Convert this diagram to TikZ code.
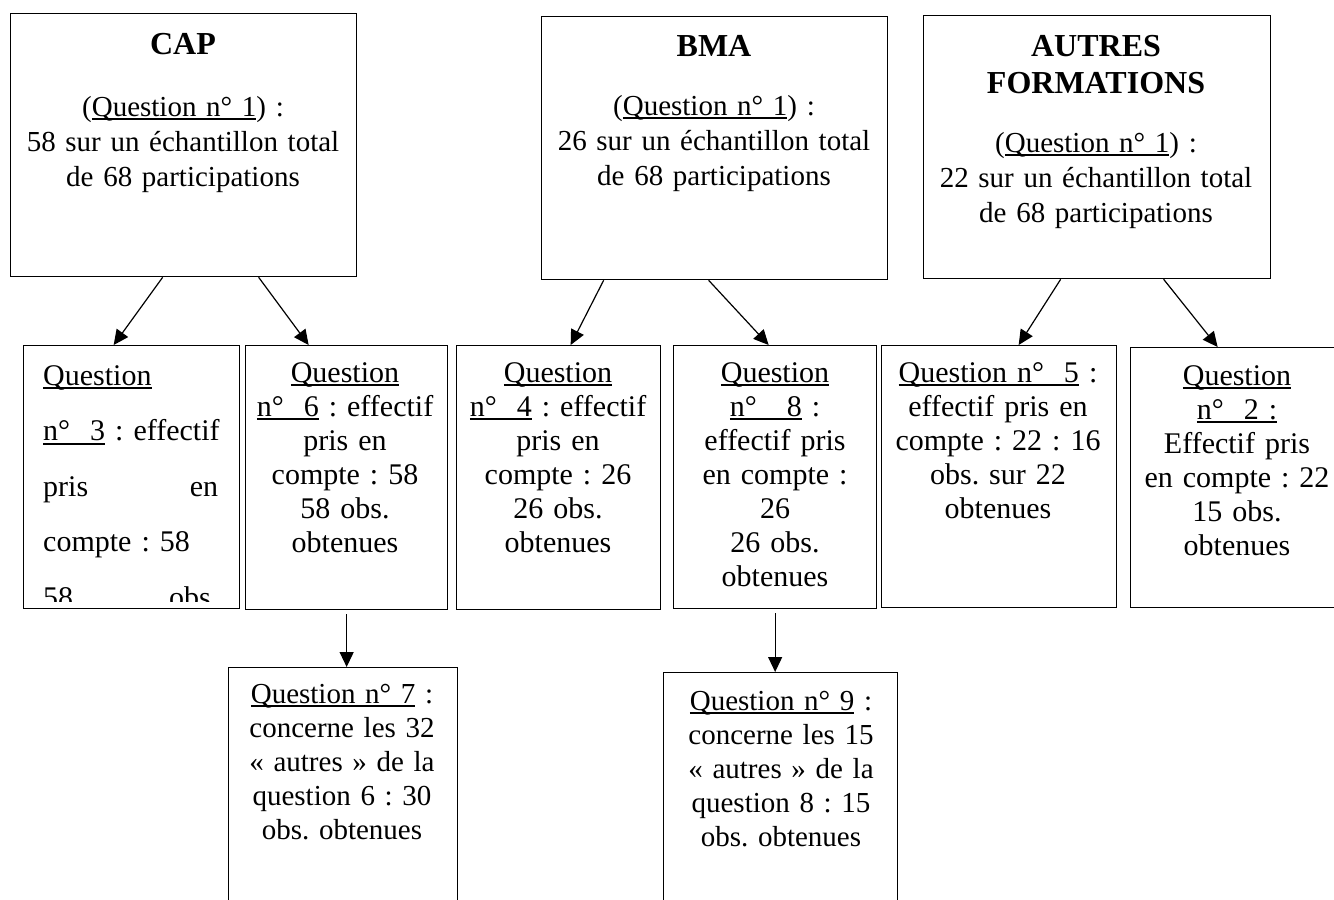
\documentclass[tikz,border=0pt]{standalone}
\usepackage{fontspec}
\setmainfont{Liberation Serif}[Ligatures=TeX]
\usetikzlibrary{arrows.meta,calc}
\newcommand\myul[1]{\leavevmode\setbox0\hbox{#1}\rlap{\rule[-4pt]{\wd0}{1.7pt}}\box0\relax}
\newcommand\jline[1]{\leavevmode\hbox to 175pt{#1}}
\newcommand\ttl[1]{{\fontsize{32}{35}\selectfont\textbf{#1}}}
\begin{document}
\begin{tikzpicture}[x=1pt,y=-1pt,
  box/.style={draw, line width=1.3pt, inner sep=0pt, anchor=north west},
  toptxt/.style={inner sep=0pt, anchor=base, text width=345pt, font=\fontsize{29}{35}\selectfont\frenchspacing},
  midtxt/.style={inner sep=0pt, anchor=base, text width=240pt, font=\fontsize{30}{34}\selectfont\frenchspacing},
  bottxt/.style={midtxt, font=\fontsize{29}{34}\selectfont\frenchspacing},
  arr/.style={line width=1.2pt, -{Triangle[length=15pt,width=14pt]}}]
\path[fill=white, use as bounding box] (0,0) rectangle (1334,900);

% top row
\node[box, minimum width=346pt, minimum height=263pt] (cap) at (10,13) {};
\node[box, minimum width=346pt, minimum height=263pt] (bma) at (541,16) {};
\node[box, minimum width=347pt, minimum height=263pt] (aut) at (923,15) {};
% second row
\node[box, minimum width=216pt, minimum height=263pt] (q3) at (23,345) {};
\node[box, minimum width=202pt, minimum height=264pt] (q6) at (245,345) {};
\node[box, minimum width=204pt, minimum height=264pt] (q4) at (456,345) {};
\node[box, minimum width=203pt, minimum height=263pt] (q8) at (673,345) {};
\node[box, minimum width=235pt, minimum height=262pt] (q5) at (881,345) {};
\node[box, minimum width=215pt, minimum height=260pt] (q2) at (1130,347) {};
% third row
\node[box, minimum width=229pt, minimum height=260pt] (q7) at (228,667) {};
\node[box, minimum width=234pt, minimum height=260pt] (q9) at (663,672) {};

% texts
\node[toptxt] (capt) at (183,54) {\centering\ttl{CAP}\\[27pt](\myul{Question n° 1}) :\\58 sur un échantillon total\\de 68 participations\par};
\node[toptxt] (bmat) at (714,56) {\centering\ttl{BMA}\\[24pt](\myul{Question n° 1}) :\\26 sur un échantillon total\\de 68 participations\par};
\node[toptxt] (autt) at (1096,56) {\centering\ttl{AUTRES}\\[2pt]\ttl{FORMATIONS}\\[24pt](\myul{Question n° 1}) :\\22 sur un échantillon total\\de 68 participations\par};

\node[midtxt] (q6t) at (345,382) {\centering\myul{Question}\\\myul{n°~~6} : effectif\\pris en\\compte : 58\\58 obs.\\obtenues\par};
\node[midtxt] (q4t) at (558,382) {\centering\myul{Question}\\\myul{n°~~4} : effectif\\pris en\\compte : 26\\26 obs.\\obtenues\par};
\node[midtxt] (q8t) at (775,382) {\centering\myul{Question}\\\myul{n°~~~8} :\\effectif pris\\en compte :\\26\\26 obs.\\obtenues\par};
\node[midtxt] (q5t) at (998,382) {\centering\myul{Question n°~~5} :\\effectif pris en\\compte : 22 : 16\\obs. sur 22\\obtenues\par};
\node[midtxt] (q2t) at (1237,385) {\centering\myul{Question}\\\myul{n°~~2 :}\\Effectif pris\\en compte : 22\\15 obs.\\obtenues\par};

\begin{scope}
\clip (q3.north west) rectangle ([yshift=8pt]q3.south east);
\node[inner sep=0pt, anchor=base west, text width=175pt, font=\fontsize{30}{55.5}\selectfont\frenchspacing] (q3t) at (43,385)
 {\raggedright\myul{Question}\\\jline{\myul{n°~~3}\hfil\ :\hfil\ effectif}\\\jline{pris\hfil en}\\compte : 58\\\jline{58\hfil obs.}\par};
\end{scope}

\node[bottxt] (q7t) at (342,703) {\centering\myul{Question n° 7} :\\concerne les 32\\«~autres~» de la\\question 6 : 30\\obs. obtenues\par};
\node[bottxt] (q9t) at (781,710) {\centering\myul{Question n° 9} :\\concerne les 15\\«~autres~» de la\\question 8 : 15\\obs. obtenues\par};

% arrows
\draw[arr] ([xshift=-21pt]cap.south) -- ([xshift=-18pt]q3.north);
\draw[arr] ([xshift=75pt]cap.south) -- ([xshift=-38pt]q6.north);
\draw[arr] ([xshift=-111pt]bma.south) -- ([xshift=12pt]q4.north);
\draw[arr] ([xshift=-6pt]bma.south) -- ([xshift=-6.5pt]q8.north);
\draw[arr] ([xshift=-36.5pt]aut.south) -- ([xshift=19.5pt]q5.north);
\draw[arr] ([xshift=66.5pt]aut.south) -- ([xshift=-20.5pt]q2.north);
\draw[arr, shorten <=4pt] (q6.south) -- (q6.south |- q7.north);
\draw[arr, shorten <=4pt] (q8.south) -- (q8.south |- q9.north);
\end{tikzpicture}
\end{document}
